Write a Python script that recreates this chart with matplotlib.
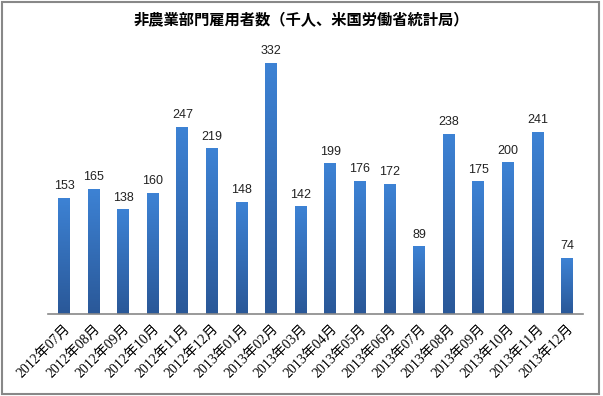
import matplotlib.pyplot as plt
import numpy as np
from matplotlib.colors import LinearSegmentedColormap
from matplotlib.patches import Rectangle

plt.rcParams['font.family'] = ['Noto Sans CJK JP', 'DejaVu Sans']

months = ['2012年07月', '2012年08月', '2012年09月', '2012年10月', '2012年11月', '2012年12月',
          '2013年01月', '2013年02月', '2013年03月', '2013年04月', '2013年05月', '2013年06月',
          '2013年07月', '2013年08月', '2013年09月', '2013年10月', '2013年11月', '2013年12月']
payrolls = [153, 165, 138, 160, 247, 219, 148, 332, 142, 199, 176, 172, 89, 238, 175, 200, 241, 74]

fig = plt.figure(figsize=(6.03, 3.96), dpi=100)
ax = fig.add_axes([48 / 603, 82 / 396, 535 / 603, 259 / 396])

# vertical gradient, dark at bottom, light at top
cmap = LinearSegmentedColormap.from_list('blu', ['#2a5898', '#3d82d4'])
grad = np.linspace(0, 1, 100).reshape(-1, 1)
w = 0.4
for i, v in enumerate(payrolls):
    ax.imshow(grad, extent=[i - w / 2, i + w / 2, 0, v], origin='lower',
              aspect='auto', cmap=cmap, zorder=2)
    ax.text(i, v + 8, str(v), ha='center', va='bottom', fontsize=9,
            family='Liberation Sans', color='#222222')

ax.set_xlim(-0.54, len(payrolls) - 0.46)
ax.set_ylim(0, 343)
ax.set_xticks(range(len(months)))
ax.set_xticklabels(months, rotation=45, ha='right', rotation_mode='anchor', fontsize=10,
                   family=['Liberation Serif', 'Noto Sans CJK JP'])
ax.tick_params(axis='x', length=0, pad=6)
ax.set_yticks([])
for s in ['top', 'right', 'left']:
    ax.spines[s].set_visible(False)
ax.spines['bottom'].set_color('#888888')
ax.spines['bottom'].set_linewidth(1.2)

fig.text(0.5, 1 - 20 / 396, '非農業部門雇用者数（千人、米国労働省統計局）', ha='center', va='center',
         fontsize=11, fontweight='bold')

fig.patches.append(Rectangle((0.004, 0.006), 0.99, 0.988, transform=fig.transFigure,
                             fill=False, edgecolor='#888888', linewidth=1.5))

fig.savefig('out.png', dpi=100)
